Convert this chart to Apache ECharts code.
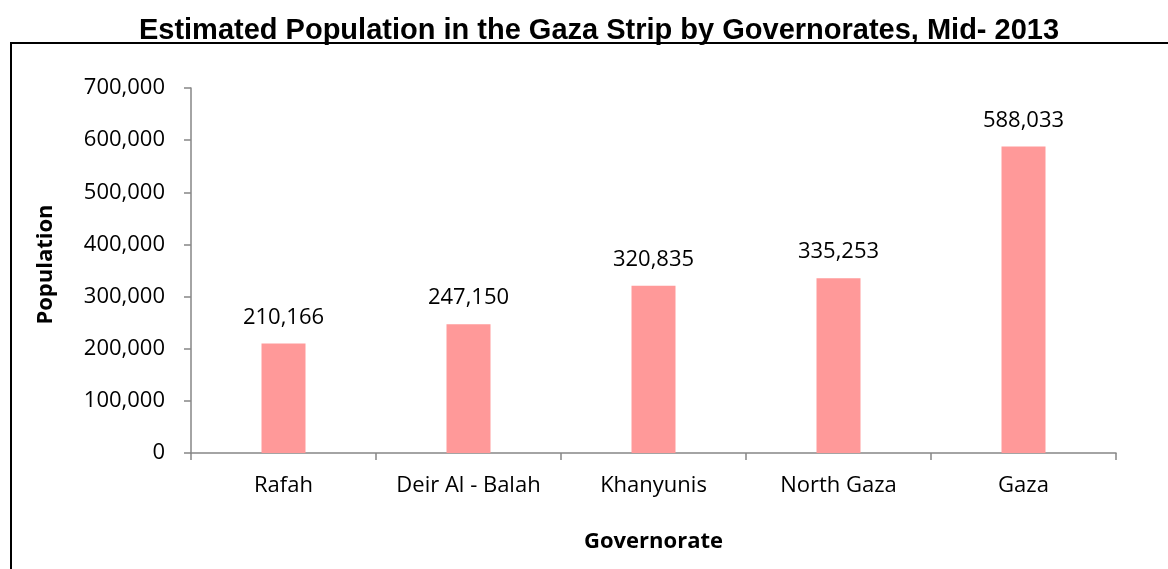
<!DOCTYPE html>
<html>
<head>
<meta charset="utf-8">
<script src="https://cdn.jsdelivr.net/npm/echarts@6/dist/echarts.min.js"></script>
<style>
  html, body { margin: 0; padding: 0; background: #fff; }
  #chart { width: 1168px; height: 569px; }
</style>
</head>
<body>
<div id="chart"></div>
<script>
// data
const governorates = ['Rafah', 'Deir Al - Balah', 'Khanyunis', 'North Gaza', 'Gaza']
const population = [210166, 247150, 320835, 335253, 588033]

const labelFont = '"Open Sans", "Noto Sans", sans-serif'

var myChart = echarts.init(document.getElementById('chart'))

var option = {
  animation: false,
  title: {
    text: 'Estimated Population in the Gaza Strip by Governorates, Mid- 2013',
    left: 594,
    textAlign: 'center',
    top: 11,
    textStyle: {
      fontFamily: '"Liberation Sans", Arial, sans-serif',
      fontWeight: 'bold',
      fontSize: 29,
      color: '#000'
    }
  },
  graphic: [
    {
      // outer frame (runs past the picture on the right and bottom)
      type: 'rect',
      shape: { x: 11, y: 43, width: 1400, height: 800 },
      style: { fill: 'none', stroke: '#000', lineWidth: 2 }
    }
  ],
  grid: {
    left: 191,
    right: 52,
    top: 88,
    bottom: 116
  },
  xAxis: {
    type: 'category',
    data: governorates,
    name: 'Governorate',
    nameLocation: 'middle',
    nameGap: 78,
    nameTextStyle: {
      fontFamily: labelFont,
      fontWeight: 'bold',
      fontSize: 22,
      color: '#000'
    },
    axisLine: { lineStyle: { color: '#868686', width: 1.5 } },
    axisTick: { show: true, alignWithLabel: false, length: 7, lineStyle: { color: '#868686', width: 1.5 } },
    axisLabel: {
      interval: 0,
      fontFamily: labelFont,
      fontSize: 22,
      color: '#000',
      margin: 22
    }
  },
  yAxis: {
    type: 'value',
    min: 0,
    max: 700000,
    interval: 100000,
    name: 'Population',
    nameLocation: 'middle',
    nameGap: 134,
    nameTextStyle: {
      fontFamily: labelFont,
      fontWeight: 'bold',
      fontSize: 22,
      color: '#000',
      padding: [0, 0, 0, 12]
    },
    axisLine: { show: true, lineStyle: { color: '#868686', width: 1.5 } },
    axisTick: { show: true, length: 7, lineStyle: { color: '#868686', width: 1.5 } },
    splitLine: { show: false },
    axisLabel: {
      fontFamily: labelFont,
      fontSize: 22,
      color: '#000',
      margin: 26,
      formatter: function (v) { return v.toLocaleString('en-US') }
    }
  },
  series: [
    {
      type: 'bar',
      data: population,
      barWidth: 44,
      itemStyle: { color: '#FF9999' },
      label: {
        show: true,
        position: 'top',
        distance: 15,
        fontFamily: labelFont,
        fontSize: 22,
        color: '#000',
        formatter: function (p) { return p.value.toLocaleString('en-US') }
      }
    }
  ]
}

myChart.setOption(option)
</script>
</body>
</html>
